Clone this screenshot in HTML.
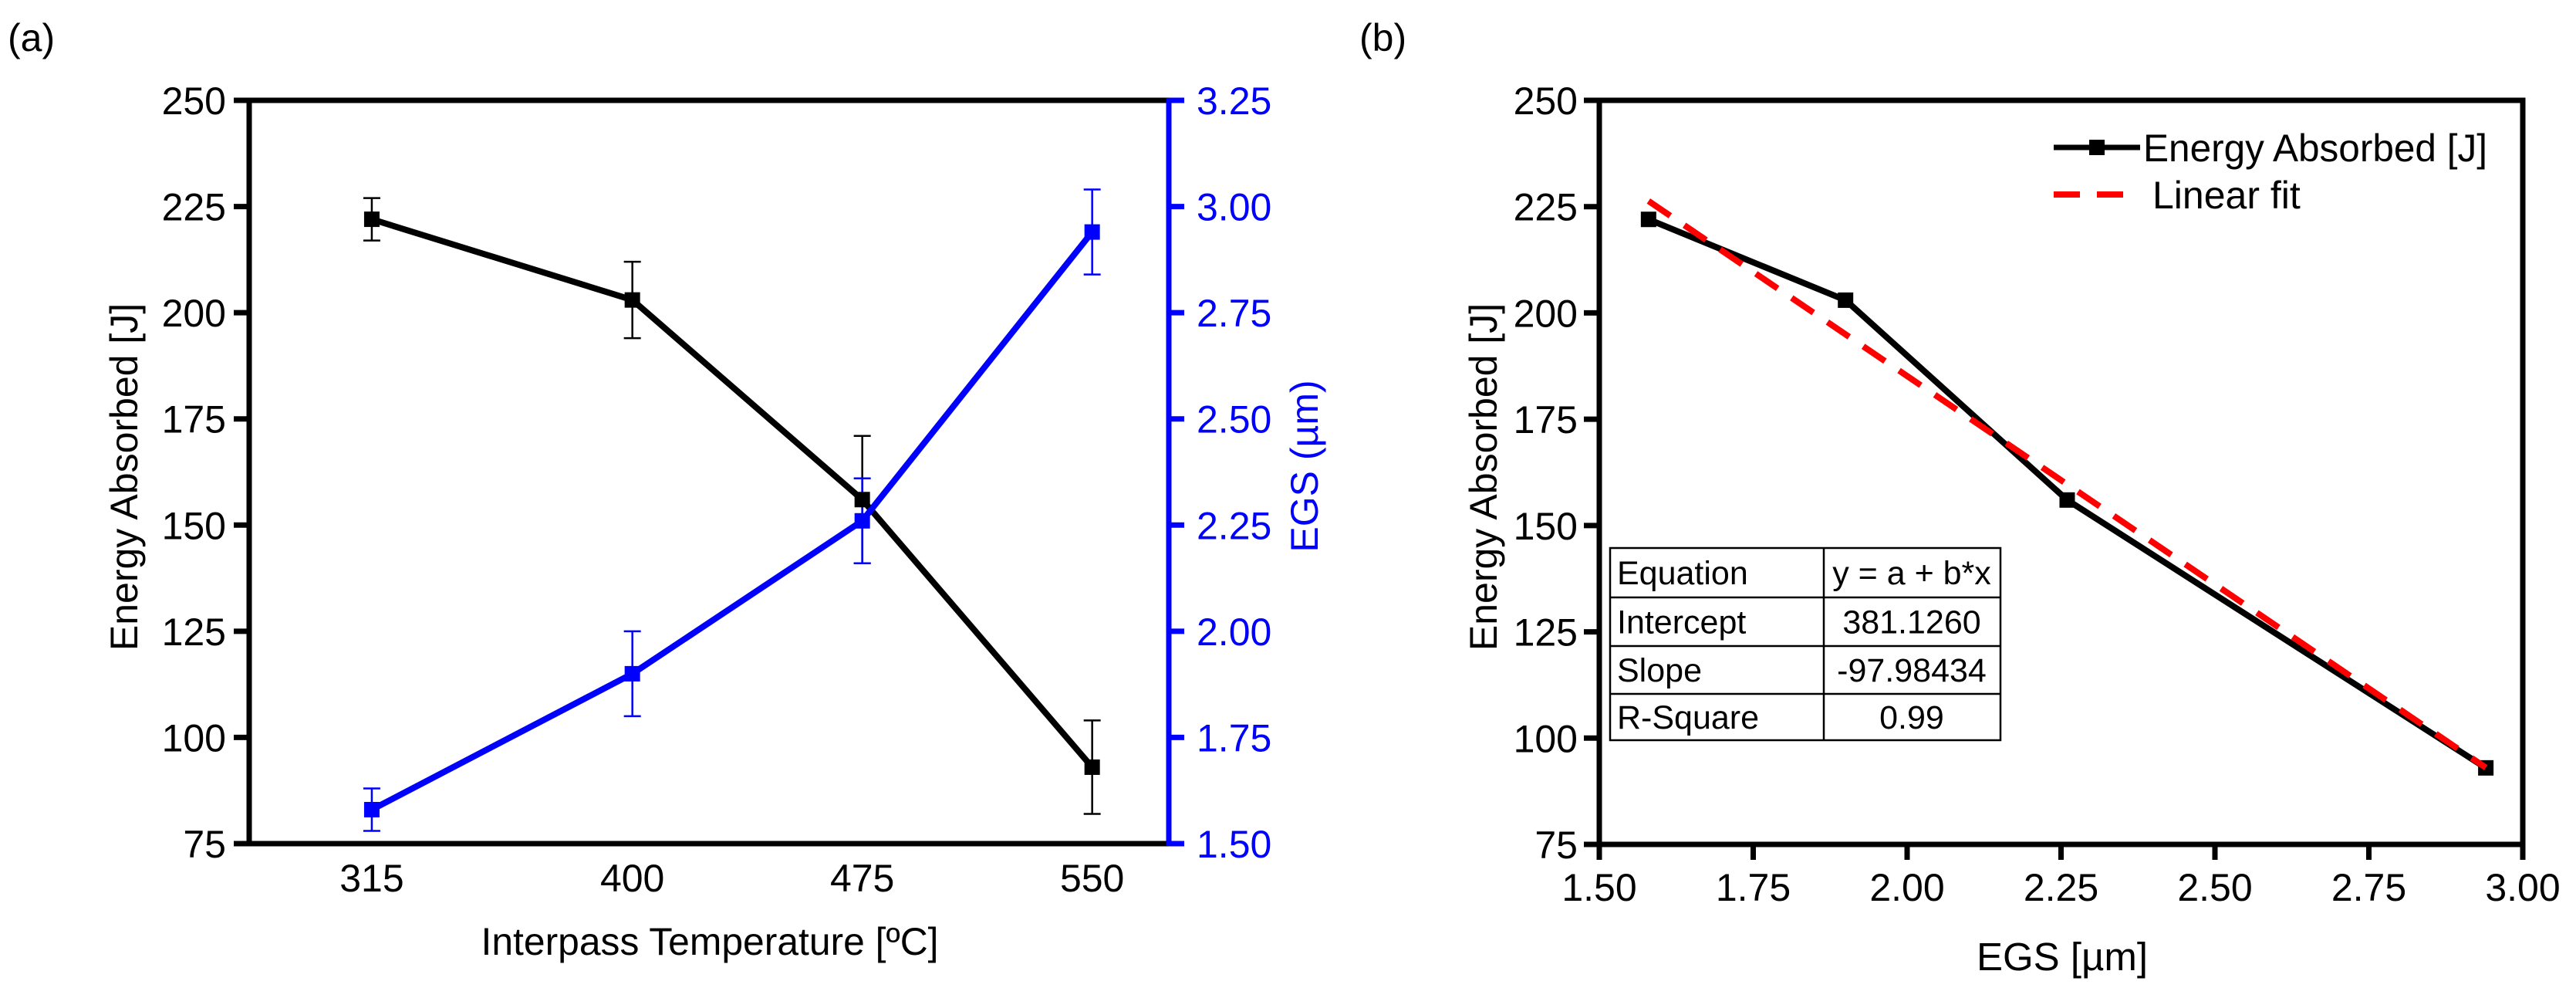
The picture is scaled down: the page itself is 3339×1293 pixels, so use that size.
<!DOCTYPE html>
<html><head><meta charset="utf-8"><style>
html,body{margin:0;padding:0;background:#fff;}
svg{display:block;font-family:"Liberation Sans",Arial,sans-serif;}
</style></head><body>
<svg id="chart" width="3339" height="1293" viewBox="0 0 3339 1293" xmlns="http://www.w3.org/2000/svg">
<text x="10" y="66" font-size="50">(a)</text>
<text x="1762" y="66" font-size="50">(b)</text>
<g id="pa"></g>
<g id="pb"></g>
</svg>
<script>
const temps = [315, 400, 475, 550];
const energy = [222, 203, 156, 93];
const energyErr = [5, 9, 15, 11];
const egs = [1.58, 1.90, 2.26, 2.94];
const egsErr = [0.05, 0.10, 0.10, 0.10];
const leftTicks = [75, 100, 125, 150, 175, 200, 225, 250];
const rightTicks = [1.50, 1.75, 2.00, 2.25, 2.50, 2.75, 3.00, 3.25];
const bTicksX = [1.50, 1.75, 2.00, 2.25, 2.50, 2.75, 3.00];
const fitA = 381.1260;
const fitB = -97.98434;
const fitRange = [1.58, 2.94];
const tableRows = [["Equation","y = a + b*x"],["Intercept","381.1260"],["Slope","-97.98434"],["R-Square","0.99"]];

const NS = "http://www.w3.org/2000/svg";
function mk(parent, tag, attrs, text){
  const e = document.createElementNS(NS, tag);
  for (const k in attrs) e.setAttribute(k, attrs[k]);
  if (text !== undefined) e.textContent = text;
  parent.appendChild(e);
  return e;
}
const pa = document.getElementById('pa');
const pb = document.getElementById('pb');

// ---- Panel A ----
const aL=323, aR=1515, aT=130, aB=1093;
const ax = t => aL + (t-275)/(575-275)*(aR-aL);
const ay = v => aB - (v-75)/(250-75)*(aB-aT);
const ay2 = v => aB - (v-1.5)/(3.25-1.5)*(aB-aT);

let e;
e = mk(pa,'line',{x1:aL-3,y1:aT,x2:aR,y2:aT,stroke:'#000','stroke-width':7});
 
e = mk(pa,'line',{x1:aL,y1:aT-3,x2:aL,y2:aB+3,stroke:'#000','stroke-width':7});
 
e = mk(pa,'line',{x1:aL-3,y1:aB,x2:aR,y2:aB,stroke:'#000','stroke-width':7});
 
e = mk(pa,'line',{x1:aR,y1:aT-3,x2:aR,y2:aB+3,stroke:'#0000ff','stroke-width':7});
 

leftTicks.forEach(v=>{
  const t = mk(pa,'line',{x1:aL-20,y1:ay(v),x2:aL,y2:ay(v),stroke:'#000','stroke-width':7});
   
  const l = mk(pa,'text',{x:aL-30,y:ay(v)+18,'font-size':50,'text-anchor':'end'},String(v));
   
});
rightTicks.forEach(v=>{
  const t = mk(pa,'line',{x1:aR,y1:ay2(v),x2:aR+20,y2:ay2(v),stroke:'#0000ff','stroke-width':7});
   
  const l = mk(pa,'text',{x:aR+36,y:ay2(v)+18,'font-size':50,fill:'#0000ff'},v.toFixed(2));
   
});
temps.forEach(t=>{
  const l = mk(pa,'text',{x:ax(t),y:1155,'font-size':50,'text-anchor':'middle'},String(t));
   
});
e = mk(pa,'text',{x:920,y:1237,'font-size':50,'text-anchor':'middle',textLength:593,lengthAdjust:'spacingAndGlyphs'},'Interpass Temperature [ºC]');
 
e = mk(pa,'text',{x:0,y:0,'font-size':50,'text-anchor':'middle',transform:'translate(178,618) rotate(-90)'},'Energy Absorbed [J]');
 
e = mk(pa,'text',{x:0,y:0,'font-size':50,'text-anchor':'middle',fill:'#0000ff',transform:'translate(1708,604) rotate(-90)'},'EGS (µm)');
 

// error bars
temps.forEach((t,i)=>{
  const x=ax(t);
  const g = mk(pa,'g',{stroke:'#000','stroke-width':2.5});
   
  mk(g,'line',{x1:x,y1:ay(energy[i]-energyErr[i]),x2:x,y2:ay(energy[i]+energyErr[i])});
  mk(g,'line',{x1:x-11,y1:ay(energy[i]-energyErr[i]),x2:x+11,y2:ay(energy[i]-energyErr[i])});
  mk(g,'line',{x1:x-11,y1:ay(energy[i]+energyErr[i]),x2:x+11,y2:ay(energy[i]+energyErr[i])});
  const g2 = mk(pa,'g',{stroke:'#0000ff','stroke-width':2.5});
   
  mk(g2,'line',{x1:x,y1:ay2(egs[i]-egsErr[i]),x2:x,y2:ay2(egs[i]+egsErr[i])});
  mk(g2,'line',{x1:x-11,y1:ay2(egs[i]-egsErr[i]),x2:x+11,y2:ay2(egs[i]-egsErr[i])});
  mk(g2,'line',{x1:x-11,y1:ay2(egs[i]+egsErr[i]),x2:x+11,y2:ay2(egs[i]+egsErr[i])});
});
e = mk(pa,'polyline',{points:temps.map((t,i)=>ax(t)+','+ay(energy[i])).join(' '),fill:'none',stroke:'#000','stroke-width':8});
 
e = mk(pa,'polyline',{points:temps.map((t,i)=>ax(t)+','+ay2(egs[i])).join(' '),fill:'none',stroke:'#0000ff','stroke-width':8});
 
temps.forEach((t,i)=>{
  const m = mk(pa,'rect',{x:ax(t)-10,y:ay(energy[i])-10,width:20,height:20,fill:'#000'});
   
  const m2 = mk(pa,'rect',{x:ax(t)-10,y:ay2(egs[i])-10,width:20,height:20,fill:'#0000ff'});
   
});

// ---- Panel B ----
const bL=2073, bR=3270, bT=130, bB=1094;
const bx = v => bL + (v-1.5)/(3.0-1.5)*(bR-bL);
const by = v => bB - (v-75)/(250-75)*(bB-bT);
e = mk(pb,'rect',{x:bL,y:bT,width:bR-bL,height:bB-bT,fill:'none',stroke:'#000','stroke-width':7});
 
leftTicks.forEach(v=>{
  const t = mk(pb,'line',{x1:bL-20,y1:by(v),x2:bL,y2:by(v),stroke:'#000','stroke-width':7});
   
  const l = mk(pb,'text',{x:bL-28,y:by(v)+18,'font-size':50,'text-anchor':'end'},String(v));
   
});
bTicksX.forEach(v=>{
  const t = mk(pb,'line',{x1:bx(v),y1:bB,x2:bx(v),y2:bB+20,stroke:'#000','stroke-width':7});
   
  const l = mk(pb,'text',{x:bx(v),y:1167,'font-size':50,'text-anchor':'middle'},v.toFixed(2));
   
});
e = mk(pb,'text',{x:2673,y:1257,'font-size':51,'text-anchor':'middle'},'EGS [µm]');
 
e = mk(pb,'text',{x:0,y:0,'font-size':50,'text-anchor':'middle',transform:'translate(1940,618) rotate(-90)'},'Energy Absorbed [J]');
 

e = mk(pb,'polyline',{points:egs.map((g,i)=>bx(g)+','+by(energy[i])).join(' '),fill:'none',stroke:'#000','stroke-width':8});
 
egs.forEach((g,i)=>{
  const m = mk(pb,'rect',{x:bx(g)-10,y:by(energy[i])-10,width:20,height:20,fill:'#000'});
   
});
e = mk(pb,'line',{x1:bx(fitRange[0]),y1:by(fitA+fitB*fitRange[0]),x2:bx(fitRange[1]),y2:by(fitA+fitB*fitRange[1]),stroke:'#ff0000','stroke-width':8,'stroke-dasharray':'34,22'});
 

// legend
const lg = mk(pb,'g',{});
 
e = mk(lg,'line',{x1:2662,y1:191,x2:2774,y2:191,stroke:'#000','stroke-width':7});
 
mk(lg,'rect',{x:2708,y:181,width:20,height:20,fill:'#000'});
e = mk(lg,'text',{x:2778,y:209,'font-size':50,textLength:446,lengthAdjust:'spacingAndGlyphs'},'Energy Absorbed [J]');
 
e = mk(lg,'line',{x1:2662,y1:252,x2:2772,y2:252,stroke:'#ff0000','stroke-width':8,'stroke-dasharray':'34,22'});
 
e = mk(lg,'text',{x:2790,y:270,'font-size':50},'Linear fit');
 

// table
const tb = mk(pb,'g',{});
 
const rowsY=[710,774,837,899,959];
mk(tb,'rect',{x:2087,y:710,width:506,height:249,fill:'none',stroke:'#000','stroke-width':2.5});
mk(tb,'line',{x1:2364,y1:710,x2:2364,y2:959,stroke:'#000','stroke-width':2.5});
for(let i=1;i<4;i++) mk(tb,'line',{x1:2087,y1:rowsY[i],x2:2593,y2:rowsY[i],stroke:'#000','stroke-width':2.5});
tableRows.forEach((r,i)=>{
  const yb = rowsY[i]+(rowsY[i+1]-rowsY[i])/2+15;
  const c1 = mk(tb,'text',{x:2096,y:yb,'font-size':43},r[0]);
   
  const c2 = mk(tb,'text',{x:2478,y:yb,'font-size':43,'text-anchor':'middle'},r[1]);
   
});
</script>
</body></html>
